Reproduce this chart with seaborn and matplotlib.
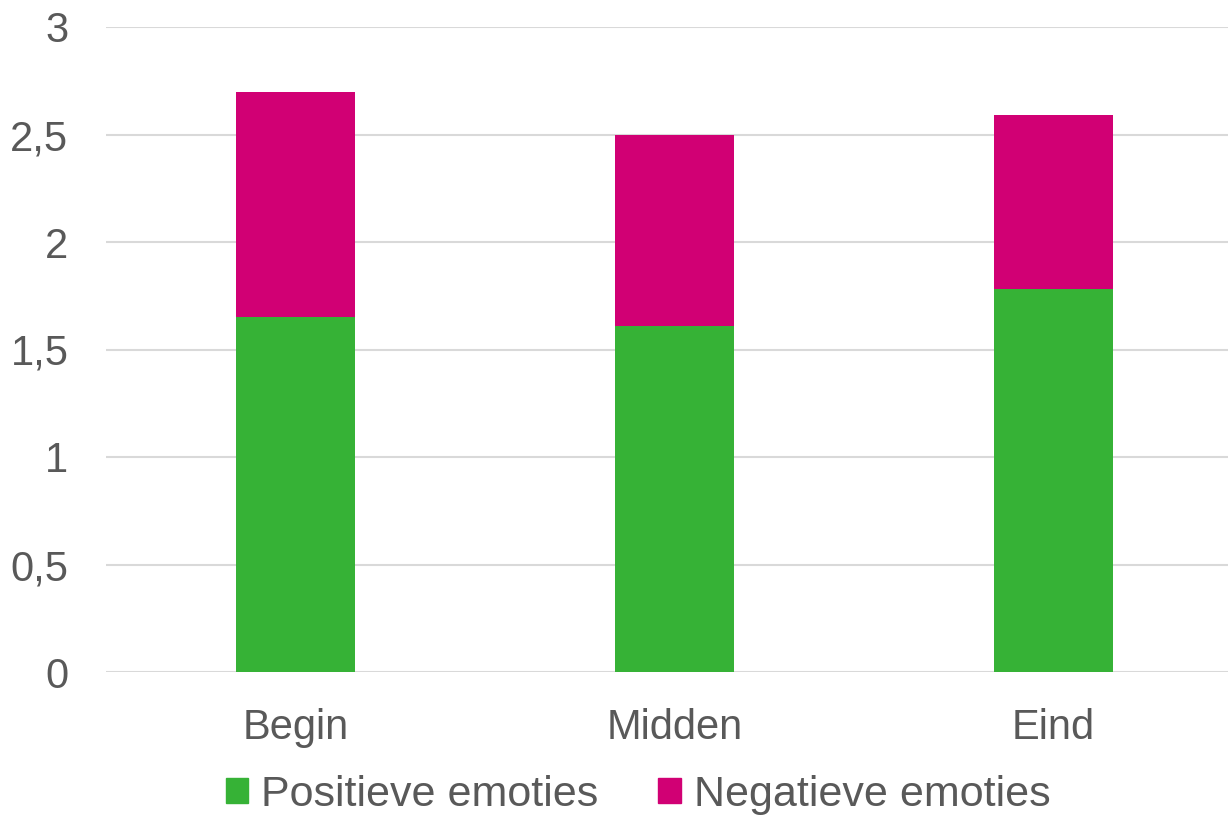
import matplotlib
matplotlib.use('Agg')
import matplotlib.pyplot as plt
from matplotlib.patches import Patch
import numpy as np
import pandas as pd
import seaborn as sns

categories = ['Begin', 'Midden', 'Eind']
positive = [1.65, 1.61, 1.78]
negative = [1.05, 0.89, 0.81]
series_names = ['Positieve emoties', 'Negatieve emoties']

green = '#36B236'
magenta = '#D10074'
text_col = '#595959'

df = pd.DataFrame({'category': categories, 'positive': positive, 'negative': negative})
df['total'] = df['positive'] + df['negative']

sns.set_style('white')
plt.rcParams['font.family'] = ['Liberation Sans', 'DejaVu Sans']

fig = plt.figure(figsize=(12.28, 8.18), dpi=100)
ax = fig.add_axes([106 / 1228, 1 - 672 / 818, 1 - 106 / 1228, 645 / 818])

sns.barplot(data=df, x='category', y='total', color=magenta, width=0.314,
            saturation=1, ax=ax, zorder=3, linewidth=0)
sns.barplot(data=df, x='category', y='positive', color=green, width=0.314,
            saturation=1, ax=ax, zorder=4, linewidth=0)

ax.set_ylim(0, 3)
ax.set_xlim(-0.5, 2.46)
ax.set_yticks(np.arange(0, 3.01, 0.5))
ax.set_yticklabels(['0', '0,5', '1', '1,5', '2', '2,5', '3'])
ax.yaxis.grid(True, color='#D9D9D9', linewidth=1.5, zorder=0)
ax.set_axisbelow(True)
for s in ax.spines.values():
    s.set_visible(False)
ax.tick_params(axis='both', length=0, labelsize=30, labelcolor=text_col)
ax.tick_params(axis='y', pad=27)
ax.tick_params(axis='x', pad=26)
ax.set_xlabel('')
ax.set_ylabel('')

handles = [Patch(color=green), Patch(color=magenta)]
fig.legend(handles, series_names, loc='center', bbox_to_anchor=(638 / 1228, 1 - 795 / 818),
           ncol=2, frameon=False, fontsize=31, handlelength=0.52, handleheight=0.52,
           handletextpad=0.3, columnspacing=1.4, labelcolor=text_col)

fig.savefig('out.png', dpi=100)
